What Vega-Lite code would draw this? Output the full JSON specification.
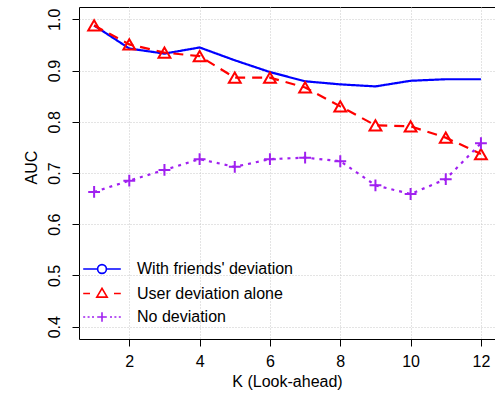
{
  "$schema": "https://vega.github.io/schema/vega-lite/v6.json",
  "autosize": "none",
  "width": 416,
  "height": 332,
  "padding": {"left": 79, "top": 7, "right": 0, "bottom": 65},
  "config": {
    "font": "Liberation Sans",
    "view": {"stroke": "black", "strokeWidth": 1},
    "axis": {
      "domain": false,
      "grid": true,
      "gridDash": [1, 2],
      "gridColor": "#c8c8c8",
      "gridWidth": 1,
      "tickColor": "black",
      "tickSize": 7,
      "labelFontSize": 16,
      "labelColor": "black",
      "titleFontSize": 16,
      "titleFontWeight": "normal",
      "titleColor": "black",
      "labelFlush": false
    },
    "legend": {
      "orient": "bottom-left",
      "offset": 14,
      "padding": 0,
      "symbolSize": 64,
      "symbolStrokeWidth": 1.6,
      "symbolFillColor": "transparent",
      "symbolOpacity": 1,
      "symbolOffset": 1,
      "labelOffset": 27,
      "labelFontSize": 16,
      "labelColor": "black",
      "labelLimit": 300,
      "rowPadding": 7.5
    }
  },
  "data": {
    "values": [
      {"K": 1, "AUC": 0.988, "series": "With friends' deviation"},
      {"K": 2, "AUC": 0.943, "series": "With friends' deviation"},
      {"K": 3, "AUC": 0.933, "series": "With friends' deviation"},
      {"K": 4, "AUC": 0.945, "series": "With friends' deviation"},
      {"K": 5, "AUC": 0.920, "series": "With friends' deviation"},
      {"K": 6, "AUC": 0.897, "series": "With friends' deviation"},
      {"K": 7, "AUC": 0.879, "series": "With friends' deviation"},
      {"K": 8, "AUC": 0.873, "series": "With friends' deviation"},
      {"K": 9, "AUC": 0.869, "series": "With friends' deviation"},
      {"K": 10, "AUC": 0.880, "series": "With friends' deviation"},
      {"K": 11, "AUC": 0.883, "series": "With friends' deviation"},
      {"K": 12, "AUC": 0.883, "series": "With friends' deviation"},
      {"K": 1, "AUC": 0.988, "series": "User deviation alone"},
      {"K": 2, "AUC": 0.951, "series": "User deviation alone"},
      {"K": 3, "AUC": 0.935, "series": "User deviation alone"},
      {"K": 4, "AUC": 0.928, "series": "User deviation alone"},
      {"K": 5, "AUC": 0.886, "series": "User deviation alone"},
      {"K": 6, "AUC": 0.886, "series": "User deviation alone"},
      {"K": 7, "AUC": 0.867, "series": "User deviation alone"},
      {"K": 8, "AUC": 0.830, "series": "User deviation alone"},
      {"K": 9, "AUC": 0.793, "series": "User deviation alone"},
      {"K": 10, "AUC": 0.791, "series": "User deviation alone"},
      {"K": 11, "AUC": 0.769, "series": "User deviation alone"},
      {"K": 12, "AUC": 0.737, "series": "User deviation alone"},
      {"K": 1, "AUC": 0.663, "series": "No deviation"},
      {"K": 2, "AUC": 0.685, "series": "No deviation"},
      {"K": 3, "AUC": 0.706, "series": "No deviation"},
      {"K": 4, "AUC": 0.727, "series": "No deviation"},
      {"K": 5, "AUC": 0.712, "series": "No deviation"},
      {"K": 6, "AUC": 0.727, "series": "No deviation"},
      {"K": 7, "AUC": 0.730, "series": "No deviation"},
      {"K": 8, "AUC": 0.723, "series": "No deviation"},
      {"K": 9, "AUC": 0.676, "series": "No deviation"},
      {"K": 10, "AUC": 0.659, "series": "No deviation"},
      {"K": 11, "AUC": 0.688, "series": "No deviation"},
      {"K": 12, "AUC": 0.758, "series": "No deviation"}
    ]
  },
  "encoding": {
    "x": {
      "field": "K",
      "type": "quantitative",
      "scale": {"domain": [0.57, 12.4], "nice": false, "zero": false},
      "axis": {
        "values": [2, 4, 6, 8, 10, 12],
        "labelPadding": 7,
        "title": "K (Look-ahead)",
        "titlePadding": 4
      }
    },
    "y": {
      "field": "AUC",
      "type": "quantitative",
      "scale": {"domain": [0.376, 1.024], "nice": false, "zero": false},
      "axis": {
        "values": [0.4, 0.5, 0.6, 0.7, 0.8, 0.9, 1.0],
        "format": ".1f",
        "labelAngle": -90,
        "labelAlign": "center",
        "labelBaseline": "alphabetic",
        "labelPadding": 13,
        "title": "AUC",
        "titleAngle": -90,
        "titleAlign": "center",
        "titleBaseline": "alphabetic",
        "titleX": -43,
        "titleY": 160
      }
    }
  },
  "layer": [
    {
      "mark": {"type": "line", "strokeWidth": 2.2},
      "encoding": {
        "color": {
          "field": "series",
          "type": "nominal",
          "scale": {
            "domain": ["With friends' deviation", "User deviation alone", "No deviation"],
            "range": ["#0000FF", "#FF0000", "#A020F0"]
          },
          "legend": null
        },
        "strokeDash": {
          "field": "series",
          "type": "nominal",
          "scale": {
            "domain": ["With friends' deviation", "User deviation alone", "No deviation"],
            "range": [[1, 0], [10, 7], [3, 5]]
          },
          "legend": null
        }
      }
    },
    {
      "transform": [{"filter": {"field": "series", "oneOf": ["User deviation alone", "No deviation"]}}],
      "mark": {"type": "point", "filled": false, "strokeWidth": 2, "size": 140, "opacity": 1},
      "encoding": {
        "color": {
          "field": "series",
          "type": "nominal",
          "scale": {
            "domain": ["User deviation alone", "No deviation"],
            "range": ["#FF0000", "#A020F0"]
          },
          "legend": null
        },
        "shape": {
          "field": "series",
          "type": "nominal",
          "scale": {
            "domain": ["User deviation alone", "No deviation"],
            "range": ["triangle-up", "M-1,0H1M0,-1V1"]
          },
          "legend": null
        }
      }
    },
    {
      "mark": {"type": "point", "filled": false, "opacity": 0},
      "encoding": {
        "color": {
          "field": "series",
          "type": "nominal",
          "scale": {
            "domain": ["With friends' deviation", "User deviation alone", "No deviation"],
            "range": ["#0000FF", "#FF0000", "#A020F0"]
          },
          "legend": {"title": null}
        },
        "shape": {
          "field": "series",
          "type": "nominal",
          "scale": {
            "domain": ["With friends' deviation", "User deviation alone", "No deviation"],
            "range": [
              "M-4.7,0H-1.1M1.1,0H4.7M-1.1,0A1.1,1.1,0,1,1,1.1,0A1.1,1.1,0,1,1,-1.1,0",
              "M-4.7,0H-3M3,0H4.7M-1.3,0.9L0,-1.3L1.3,0.9Z",
              "M-4.7,0H-4.2M-3.6,0H-3.1M-2.5,0H-2M-1.2,0H1.2M0,-1.2V1.2M2,0H2.5M3.1,0H3.6M4.2,0H4.7"
            ]
          },
          "legend": {"title": null}
        }
      }
    }
  ],
  "resolve": {"scale": {"shape": "independent", "color": "independent", "strokeDash": "independent"}}
}
